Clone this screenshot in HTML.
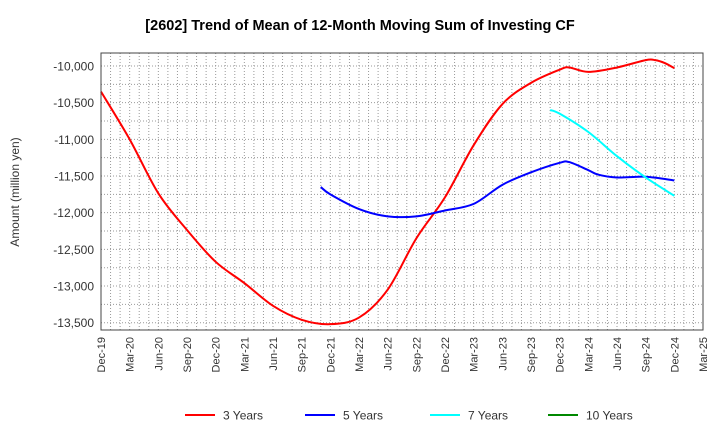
<!DOCTYPE html>
<html><head><meta charset="utf-8"><style>
body{margin:0;background:#fff;font-family:"Liberation Sans",sans-serif}
svg text{font-family:"Liberation Sans",sans-serif}
</style></head><body>
<svg id="c" width="720" height="440">
<text x="360" y="30" text-anchor="middle" font-size="14.5" font-weight="bold" fill="#000">[2602]  Trend of Mean of 12-Month Moving Sum of Investing CF</text>
<text transform="translate(19,192) rotate(-90)" text-anchor="middle" font-size="12" fill="#333">Amount (million yen)</text>
<g id="grid"></g><g id="series"></g><g id="axes"></g>
<g>
<line x1="185" y1="415" x2="215" y2="415" stroke="#f00" stroke-width="2"/><text x="223" y="419.5" font-size="12" fill="#333">3 Years</text>
<line x1="305" y1="415" x2="335" y2="415" stroke="#00f" stroke-width="2"/><text x="343" y="419.5" font-size="12" fill="#333">5 Years</text>
<line x1="430" y1="415" x2="460" y2="415" stroke="#0ff" stroke-width="2"/><text x="468" y="419.5" font-size="12" fill="#333">7 Years</text>
<line x1="548" y1="415" x2="578" y2="415" stroke="#080" stroke-width="2"/><text x="586" y="419.5" font-size="12" fill="#333">10 Years</text>
</g>
</svg>
<script>
const xLabels=["Dec-19","Mar-20","Jun-20","Sep-20","Dec-20","Mar-21","Jun-21","Sep-21","Dec-21","Mar-22","Jun-22","Sep-22","Dec-22","Mar-23","Jun-23","Sep-23","Dec-23","Mar-24","Jun-24","Sep-24","Dec-24","Mar-25"];
const yTicks=[-10000,-10500,-11000,-11500,-12000,-12500,-13000,-13500];
// month index from Dec-19
const m3=[0,3,6,9,12,15,18,21,24,27,30,33,36,39,42,45,48,49,51,54,57,58,59,60];
const v3=[-10350,-11000,-11736,-12236,-12670,-12960,-13270,-13460,-13520,-13430,-13050,-12350,-11790,-11080,-10520,-10230,-10050,-10020,-10080,-10020,-9920,-9920,-9960,-10030];
const m5=[23,24,27,30,33,36,39,42,45,48,49,51,52,54,57,60];
const v5=[-11650,-11750,-11950,-12050,-12050,-11970,-11880,-11620,-11450,-11320,-11310,-11420,-11480,-11520,-11510,-11560];
const m7=[47,48,51,54,57,60];
const v7=[-10600,-10650,-10900,-11230,-11520,-11770];
const L=101,R=703,T=53,B=330;
const X=m=>L+(R-L)*m/63;
const Y=v=>66+(v+10000)/-3500*(322.7-66);
const NS="http://www.w3.org/2000/svg";
function mk(p,t,a){const e=document.createElementNS(NS,t);for(const k in a)e.setAttribute(k,a[k]);p.appendChild(e);return e;}
const g=document.getElementById('grid'),ax=document.getElementById('axes'),s=document.getElementById('series');
for(let m=1;m<63;m++){const l=mk(g,'line',{x1:X(m),x2:X(m),y1:T,y2:B,stroke:'#999','stroke-dasharray':'1,2','stroke-width':1});

}
for(let v=-9750;v>=-13750;v-=250){const y=Y(v);if(y<T||y>B)continue;const l=mk(g,'line',{x1:L,x2:R,y1:y,y2:y,stroke:'#999','stroke-dasharray':'1,2','stroke-width':1});

}
const fr=mk(ax,'rect',{x:L,y:T,width:R-L,height:B-T,fill:'none',stroke:'#444','stroke-width':1});


yTicks.forEach(v=>{const t=mk(ax,'text',{x:L-7,y:Y(v)+4.5,'text-anchor':'end','font-size':12,fill:'#333'});t.textContent=v.toLocaleString('en-US');

});
xLabels.forEach((lb,i)=>{const x=X(i*3);const t=mk(ax,'text',{transform:`translate(${x+4},337) rotate(-90)`,'text-anchor':'end','font-size':11,fill:'#333'});t.textContent=lb;

});
function path(ms,vs){const p=ms.map((m,i)=>[X(m),Y(vs[i])]);let d=`M${p[0][0]},${p[0][1]}`;
for(let i=0;i<p.length-1;i++){const p0=p[i-1]||p[i],p1=p[i],p2=p[i+1],p3=p[i+2]||p2;
d+=` C${p1[0]+(p2[0]-p0[0])/6},${p1[1]+(p2[1]-p0[1])/6} ${p2[0]-(p3[0]-p1[0])/6},${p2[1]-(p3[1]-p1[1])/6} ${p2[0]},${p2[1]}`;}return d;}
[[m3,v3,'#f00','series-3-years'],[m5,v5,'#00f','series-5-years'],[m7,v7,'#0ff','series-7-years']].forEach(([m,v,c,n])=>{
const e=mk(s,'path',{d:path(m,v),fill:'none',stroke:c,'stroke-width':2});

});
</script>
</body></html>
